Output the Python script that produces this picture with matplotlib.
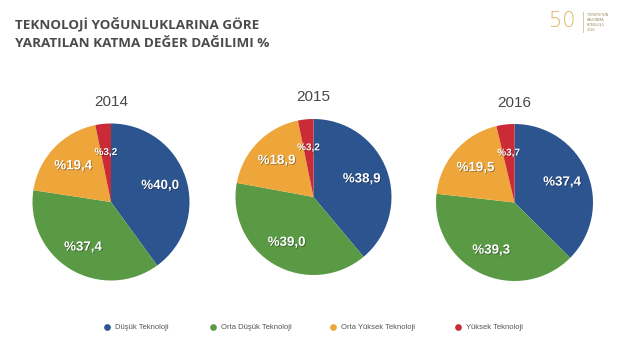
import matplotlib
matplotlib.use("Agg")
import matplotlib.pyplot as plt
import matplotlib.patheffects as pe
import numpy as np

years = ["2014", "2015", "2016"]
categories = ["Düşük Teknoloji", "Orta Düşük Teknoloji", "Orta Yüksek Teknoloji", "Yüksek Teknoloji"]
values_2014 = [40.0, 37.4, 19.4, 3.2]
values_2015 = [38.9, 39.0, 18.9, 3.2]
values_2016 = [37.4, 39.3, 19.5, 3.7]
all_values = [values_2014, values_2015, values_2016]
colors = ["#2C5590", "#5B9A45", "#EEA63A", "#CB2A37"]

W, H = 633, 352
fig = plt.figure(figsize=(W / 100, H / 100), dpi=100)
fig.patch.set_facecolor("white")

def px(x, y):
    return x / W, 1 - y / H

# Title
title_kw = dict(fontsize=9.7, fontweight="bold", color="#4B4B4D", family="Open Sans",
                ha="left", va="baseline")
fig.text(*px(15, 28), "TEKNOLOJİ YOĞUNLUKLARINA GÖRE", **title_kw)
fig.text(*px(15, 47), "YARATILAN KATMA DEĞER DAĞILIMI %", **title_kw)

# Logo (simplified)
fig.text(*px(562, 27), "50", fontsize=15, color="#D9B560", ha="center", va="baseline",
         family="DejaVu Sans", fontweight="light")
fig.add_artist(plt.Line2D([px(583, 0)[0]] * 2, [px(0, 12)[1], px(0, 32)[1]],
                          color="#C9B07A", lw=0.5))
for i, t in enumerate(["TÜRKİYE'NİN", "KALKINMA", "KURULUŞU", "2016"]):
    fig.text(*px(587, 15 + i * 5), t, fontsize=2.4, color="#9A8A60", ha="left", va="center")

# Pie geometry (pixels): center x, center y, radius, title y
geom = [(111, 202, 78.5, 102), (313.5, 197, 78, 97), (514.5, 202.5, 78.5, 103)]
label_dist = [0.66, 0.68, 0.66, 0.64]
label_size = [9.6, 9.6, 9.6, 7.2]

shadow = [pe.withSimplePatchShadow(offset=(0.6, -0.6), shadow_rgbFace="black", alpha=0.35)]

for year, vals, (cx, cy, r, ty) in zip(years, all_values, geom):
    left = (cx - r) / W
    bottom = 1 - (cy + r) / H
    ax = fig.add_axes([left, bottom, 2 * r / W, 2 * r / H])
    wedges, _ = ax.pie(vals, colors=colors, startangle=90, counterclock=False,
                       radius=1.0, wedgeprops=dict(linewidth=0))
    ax.set_xlim(-1, 1)
    ax.set_ylim(-1, 1)
    ax.set_aspect("equal")
    ax.axis("off")
    for w, v, d, fs in zip(wedges, vals, label_dist, label_size):
        ang = np.deg2rad((w.theta1 + w.theta2) / 2)
        ax.text(d * np.cos(ang), d * np.sin(ang), "%" + f"{v:.1f}".replace(".", ","),
                ha="center", va="center", color="white", fontsize=fs, fontweight="bold",
                family="Liberation Sans", path_effects=shadow)
    fig.text(*px(cx, ty), year, ha="center", va="center", fontsize=11,
             color="#484848", family="Liberation Sans")

# Legend
legend_x = [107, 213, 333, 458]
for x, c, lab in zip(legend_x, colors, categories):
    fig.add_artist(plt.Line2D([px(x, 0)[0]], [px(0, 327)[1]], marker="o", markersize=3.8,
                              color=c, linestyle="none"))
    fig.text(*px(x + 8, 327.5), lab, ha="left", va="center", fontsize=5.5,
             color="#555555", family="Liberation Sans")

fig.savefig("out.png", dpi=100, facecolor="white")
